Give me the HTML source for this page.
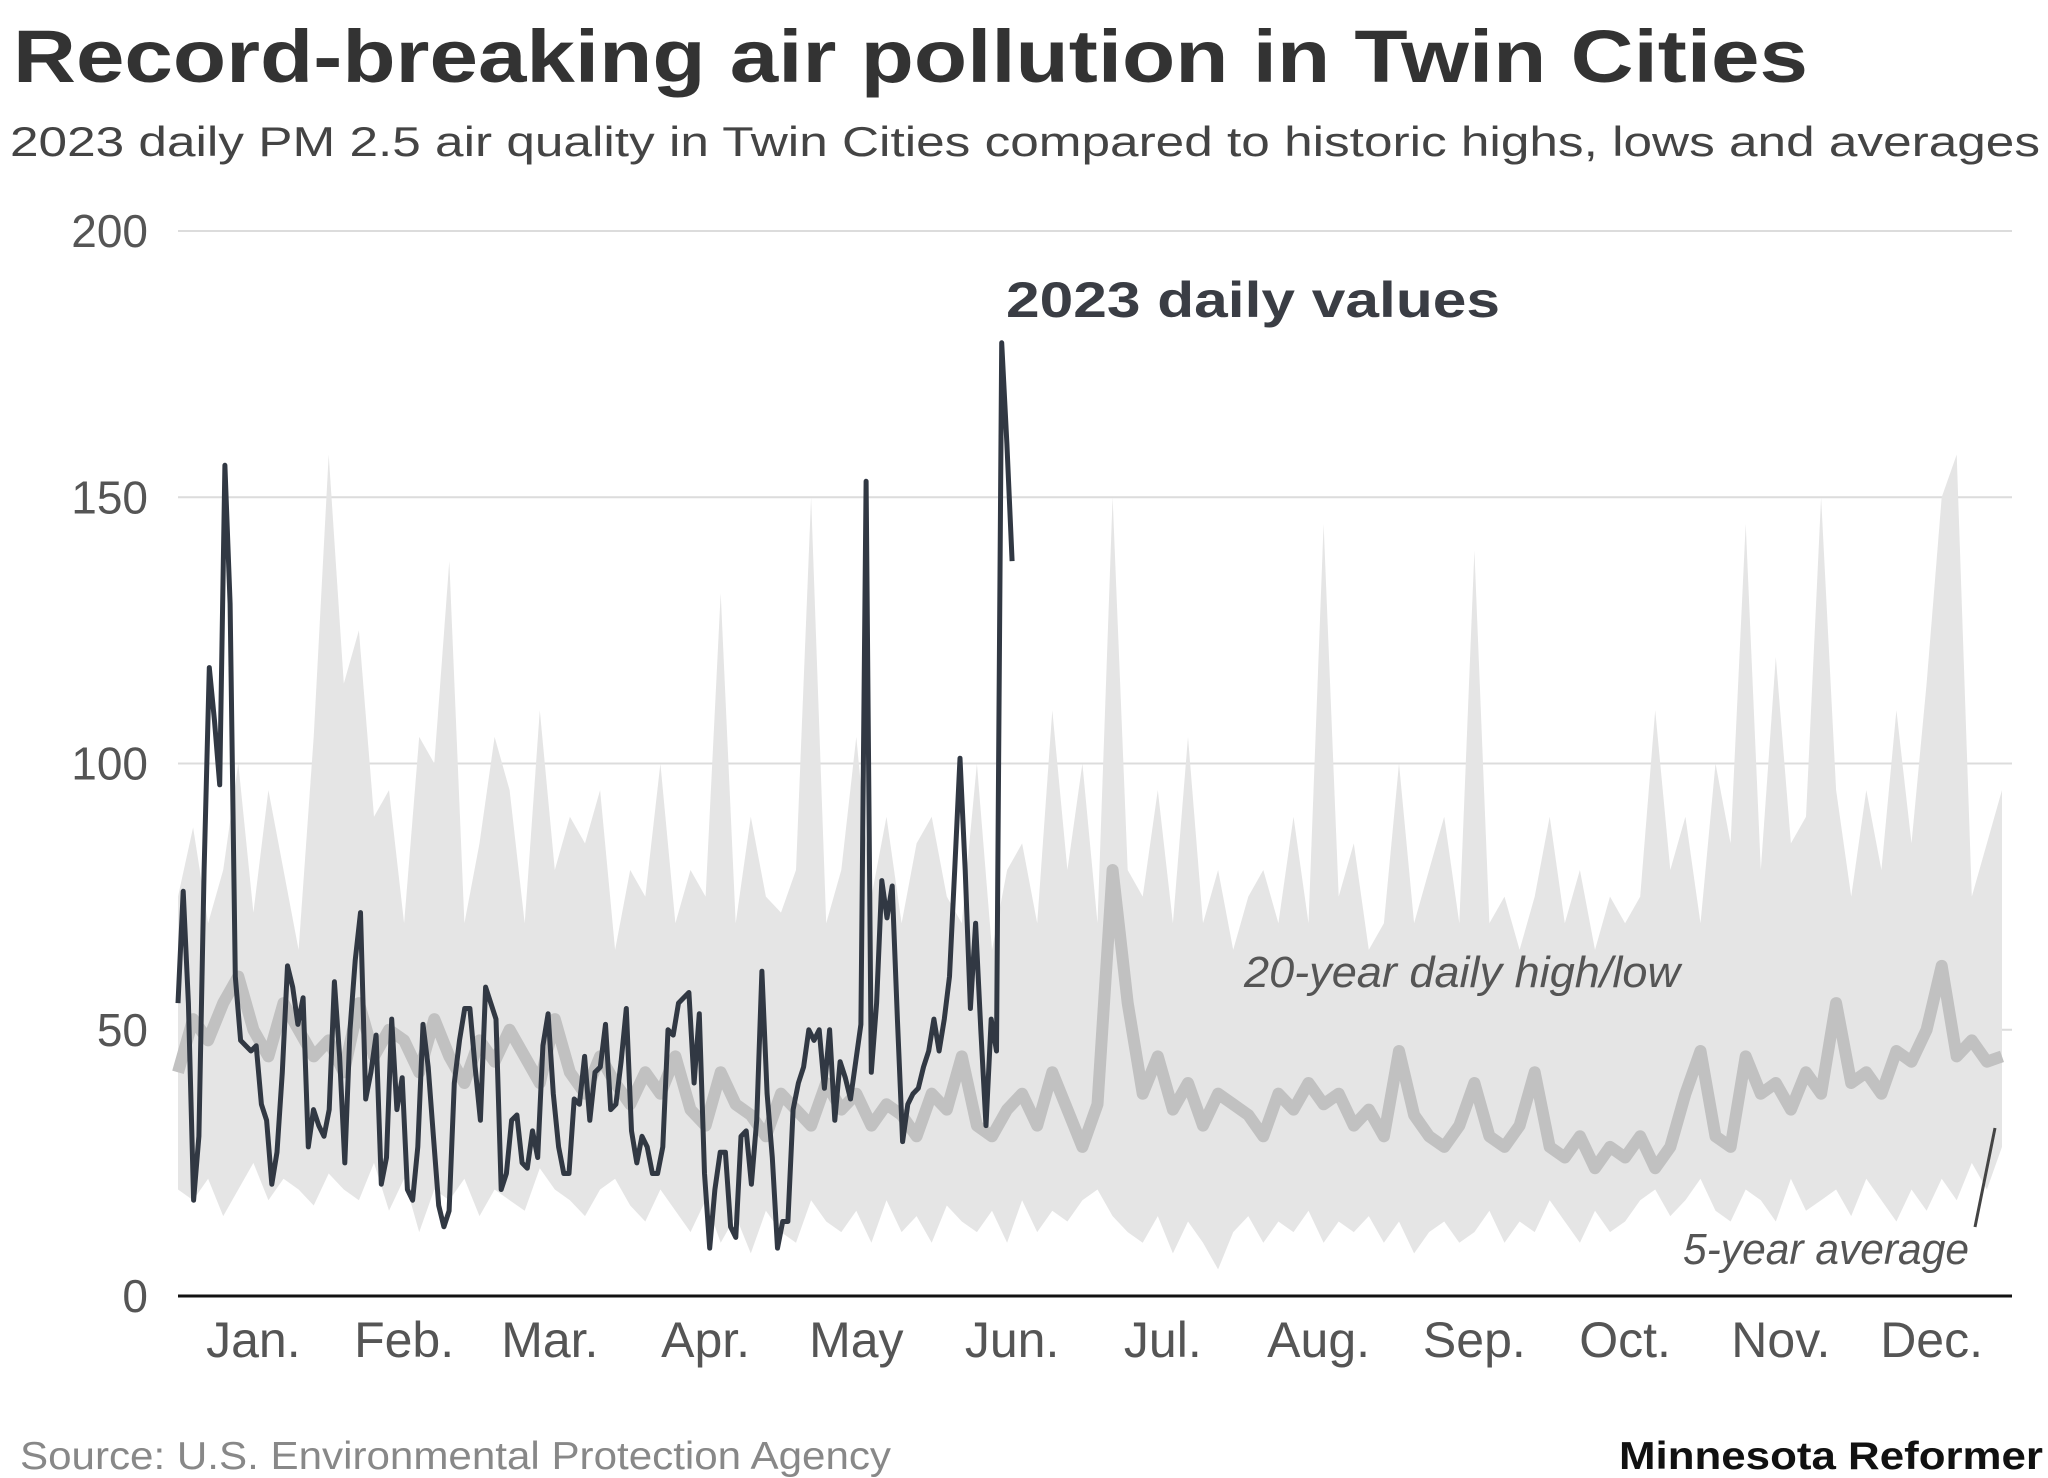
<!DOCTYPE html>
<html><head><meta charset="utf-8"><style>
html,body{margin:0;padding:0;background:#fff;}
svg{display:block;font-family:"Liberation Sans",sans-serif;}
</style></head><body>
<svg id="chart" width="2048" height="1478" viewBox="0 0 2048 1478" xmlns="http://www.w3.org/2000/svg">
<text x="13" y="82" font-size="74" font-weight="bold" fill="#333" textLength="1795" lengthAdjust="spacingAndGlyphs">Record-breaking air pollution in Twin Cities</text>
<text x="10" y="156" font-size="42" fill="#444" textLength="2030" lengthAdjust="spacingAndGlyphs">2023 daily PM 2.5 air quality in Twin Cities compared to historic highs, lows and averages</text>
<g id="grid"></g>
<g id="yticks"></g>
<g id="plot"></g>
<g id="xticks"></g>
<text x="1006" y="317" font-size="50" font-weight="bold" fill="#3a3d44" textLength="494" lengthAdjust="spacingAndGlyphs">2023 daily values</text>
<text x="1244" y="987" font-size="44" font-style="italic" fill="#555" textLength="436" lengthAdjust="spacingAndGlyphs">20-year daily high/low</text>
<text x="1683" y="1264" font-size="44" font-style="italic" fill="#555" textLength="286" lengthAdjust="spacingAndGlyphs">5-year average</text>
<line x1="1975" y1="1227" x2="1995" y2="1128" stroke="#444" stroke-width="3"/>
<text x="20" y="1469" font-size="39" fill="#888" textLength="871" lengthAdjust="spacingAndGlyphs">Source: U.S. Environmental Protection Agency</text>
<text x="1619" y="1469" font-size="39" font-weight="bold" fill="#111" textLength="424" lengthAdjust="spacingAndGlyphs">Minnesota Reformer</text>
</svg>
<script>
const yTicks = [0, 50, 100, 150, 200];
const months = ["Jan.","Feb.","Mar.","Apr.","May","Jun.","Jul.","Aug.","Sep.","Oct.","Nov.","Dec."];
const monthMid = [15,45,74,105,135,166,196,227,258,288,319,349];
// 20-year high/low and 5-year average, sampled every 3 days
const high20 = [75,88,70,80,100,72,95,80,65,105,158,115,125,90,95,70,105,100,138,70,85,105,95,70,110,80,90,85,95,65,80,75,100,70,80,75,132,70,90,75,72,80,150,70,80,105,75,90,70,85,90,75,70,100,65,80,85,70,110,80,100,70,150,80,75,95,70,105,70,80,65,75,80,70,90,70,145,75,85,65,70,100,70,80,90,70,140,70,75,65,75,90,70,80,65,75,70,75,110,80,90,70,100,85,145,80,120,85,90,150,95,75,95,80,110,85,115,150,158,75,85,95];
const low20 = [20,18,22,15,20,25,18,22,20,17,23,20,18,25,16,22,12,20,18,22,15,20,18,16,24,20,18,15,20,22,17,14,20,16,12,18,10,15,8,16,12,10,18,14,12,16,10,18,12,15,10,17,14,12,16,10,18,12,16,14,18,20,15,12,10,15,8,14,10,5,12,15,10,14,12,16,10,14,12,15,10,14,8,12,14,10,12,16,10,14,12,18,14,10,16,12,14,18,20,15,18,22,16,14,20,18,14,22,16,18,20,15,22,18,14,20,16,22,18,25,20,28];
const avg5 = [42,52,48,55,60,50,45,55,50,45,48,42,55,45,50,48,42,52,45,40,48,44,50,45,40,52,42,38,45,40,36,42,38,45,35,32,42,36,34,30,38,35,32,40,35,38,32,36,34,30,38,35,45,32,30,35,38,32,42,35,28,36,80,55,38,45,35,40,32,38,36,34,30,38,35,40,36,38,32,35,30,46,34,30,28,32,40,30,28,32,42,28,26,30,24,28,26,30,24,28,38,46,30,28,45,38,40,35,42,38,55,40,42,38,46,44,50,62,45,48,44,45];
const sampleStep = 3;
// 2023 daily values (Jan 1 onward)
const daily2023 = [55,76,55,18,30,80,118,108,96,156,130,60,48,47,46,47,36,33,21,27,42,62,58,51,56,28,35,32,30,35,59,45,25,50,63,72,37,42,49,21,26,52,35,41,20,18,28,51,43,30,17,13,16,40,48,54,54,43,33,58,55,52,20,23,33,34,25,24,31,26,47,53,38,28,23,23,37,36,45,33,42,43,51,35,36,44,54,31,25,30,28,23,23,28,50,49,55,56,57,40,53,23,9,20,27,27,13,11,30,31,21,33,61,38,26,9,14,14,35,40,43,50,48,50,39,50,33,44,41,37,44,51,153,42,55,78,71,77,52,29,36,38,39,43,46,52,46,52,60,80,101,80,54,70,50,32,52,46,179,160,138];
const lastDay2023 = 166;

const NS = "http://www.w3.org/2000/svg";
const X0 = 178, X1 = 2012, Y0 = 1296, Y1 = 231;
const xS = d => X0 + d * (X1 - X0) / 365;
const yS = v => Y0 - v * (Y0 - Y1) / 200;
function mk(tag, attrs, parent) {
  const e = document.createElementNS(NS, tag);
  for (const k in attrs) e.setAttribute(k, attrs[k]);
  parent.appendChild(e);
  return e;
}
const grid = document.getElementById('grid');
const yt = document.getElementById('yticks');
yTicks.forEach(v => {
  if (v > 0) {
    const l = mk('line', {x1: X0, x2: X1, y1: yS(v), y2: yS(v), stroke: '#dcdcdc', 'stroke-width': 2}, grid);
    
    
  }
  const t = mk('text', {x: 148, y: yS(v) + 16, 'text-anchor': 'end', 'font-size': 46, fill: '#555'}, yt);
  t.textContent = v;
  
  
});
const plot = document.getElementById('plot');
let d = '';
high20.forEach((v, i) => { d += (i ? 'L' : 'M') + xS(i * sampleStep).toFixed(1) + ',' + yS(v).toFixed(1); });
for (let i = low20.length - 1; i >= 0; i--) d += 'L' + xS(i * sampleStep).toFixed(1) + ',' + yS(low20[i]).toFixed(1);
d += 'Z';
const band = mk('path', {d: d, fill: '#e5e5e5'}, plot);


const avgPts = avg5.map((v, i) => xS(i * sampleStep).toFixed(1) + ',' + yS(v).toFixed(1)).join(' ');
const avgLine = mk('polyline', {points: avgPts, fill: 'none', stroke: '#c1c1c1', 'stroke-width': 12, 'stroke-linejoin': 'round'}, plot);


const n = daily2023.length;
const pts = daily2023.map((v, i) => xS(i * lastDay2023 / (n - 1)).toFixed(1) + ',' + yS(v).toFixed(1)).join(' ');
const line = mk('polyline', {points: pts, fill: 'none', stroke: '#313843', 'stroke-width': 5, 'stroke-linejoin': 'round'}, plot);


const axis = mk('line', {x1: X0, x2: X1, y1: Y0, y2: Y0, stroke: '#111', 'stroke-width': 3}, plot);


const xt = document.getElementById('xticks');
months.forEach((m, i) => {
  const t = mk('text', {x: xS(monthMid[i]), y: 1357, 'text-anchor': 'middle', 'font-size': 50, fill: '#555'}, xt);
  t.textContent = m;
  
  
});
</script>
</body></html>
